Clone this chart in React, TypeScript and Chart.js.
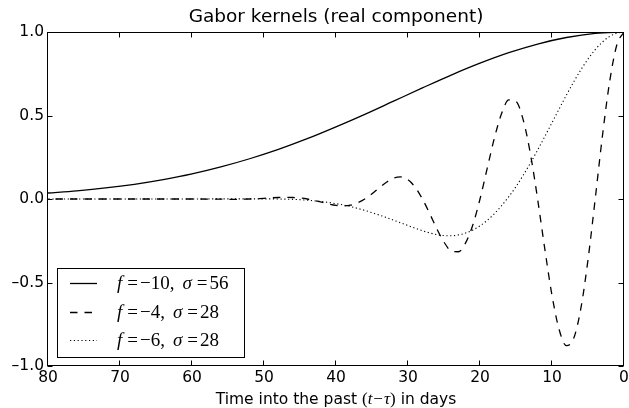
import React, { useEffect, useRef } from "react";
import { Chart, registerables } from "chart.js";

Chart.register(...registerables);

// ---------- data ----------
const TITLE = "Gabor kernels (real component)";

const xTickValues = [0, 10, 20, 30, 40, 50, 60, 70, 80];
const yTickValues = [-1, -0.5, 0, 0.5, 1];

// f = -10, sigma = 56 (solid)
const solidDays = [0, 4, 8, 12, 16, 20, 24, 28, 32, 36, 40, 44, 48, 52, 56, 60, 64, 68, 72, 76, 80];
const solidValues = [1.0, 0.992, 0.967, 0.928, 0.876, 0.813, 0.742, 0.665, 0.586, 0.507, 0.432, 0.361, 0.297, 0.241, 0.192, 0.15, 0.116, 0.088, 0.066, 0.049, 0.036];

// f = -4, sigma = 28 (dashed)
const dashedDays = [
  0, 1, 2, 3, 4, 5, 6, 7, 8, 9, 10, 11, 12, 13, 14, 15, 16, 17, 18, 19, 20,
  21, 22, 23, 24, 25, 26, 27, 28, 29, 30, 31, 32, 33, 34, 35, 36, 37, 38, 39, 40,
  41, 42, 43, 44, 45, 46, 47, 48, 49, 50, 51, 52, 53, 54, 55, 56, 60, 65, 70, 75, 80,
];
const dashedValues = [
  1.0, 0.922, 0.701, 0.376, 0.0, -0.364, -0.657, -0.836, -0.878, -0.783, -0.577,
  -0.299, 0.0, 0.271, 0.474, 0.584, 0.593, 0.512, 0.365, 0.183, 0.0,
  -0.156, -0.263, -0.316, -0.311, -0.258, -0.178, -0.086, 0.0, 0.07, 0.115,
  0.132, 0.125, 0.1, 0.067, 0.031, 0.0, -0.023, -0.037, -0.041, -0.038,
  -0.03, -0.019, -0.009, 0.0, 0.006, 0.009, 0.01, 0.009, 0.007, 0.004,
  0.002, 0.0, -0.001, -0.002, -0.002, -0.001, 0, 0, 0, 0, 0,
];

// f = -6, sigma = 28 (dotted)
const dottedDays = [
  0, 1, 2, 3, 4, 5, 6, 7, 8, 9, 10, 11, 12, 13, 14, 15, 16, 17, 18, 19, 20,
  21, 22, 23, 24, 25, 26, 27, 28, 29, 30, 31, 32, 33, 34, 35, 36, 37, 38, 39, 40,
  41, 42, 43, 44, 45, 46, 47, 48, 49, 50, 55, 60, 70, 80,
];
const dottedValues = [
  1.0, 0.993, 0.973, 0.94, 0.894, 0.838, 0.773, 0.7, 0.622, 0.54, 0.457,
  0.374, 0.293, 0.215, 0.142, 0.074, 0.014, -0.04, -0.088, -0.128, -0.161,
  -0.186, -0.204, -0.215, -0.22, -0.219, -0.213, -0.203, -0.19, -0.175, -0.159,
  -0.143, -0.127, -0.111, -0.096, -0.082, -0.068, -0.056, -0.045, -0.036, -0.028,
  -0.021, -0.015, -0.011, -0.007, -0.004, -0.002, -0.001, 0.0, 0.001, 0.001,
  0.001, 0, 0, 0,
];

const legendF = ["\u221210", "\u22124", "\u22126"];
const legendSigma = ["56", "28", "28"];

// ---------- styling ----------
const SANS = '"DejaVu Sans", sans-serif';
const SERIF = '"Liberation Serif", "DejaVu Serif", serif';
const dashStyles: number[][] = [[], [7.5, 7], [1.2, 2.6]];

type Run = { text: string; font: string; pad?: number };

function runsWidth(ctx: CanvasRenderingContext2D, runs: Run[]) {
  let w = 0;
  for (const r of runs) {
    ctx.font = r.font;
    w += ctx.measureText(r.text).width + (r.pad || 0);
  }
  return w;
}

function drawRuns(ctx: CanvasRenderingContext2D, runs: Run[], x: number, y: number) {
  for (const r of runs) {
    ctx.font = r.font;
    ctx.fillText(r.text, x, y);
    x += ctx.measureText(r.text).width + (r.pad || 0);
  }
}

const decorPlugin = {
  id: "decor",
  afterDraw(chart: any) {
    const { ctx, chartArea: a } = chart;
    const xs = chart.scales.x;
    const ys = chart.scales.y;
    ctx.save();
    ctx.strokeStyle = "#000";
    ctx.fillStyle = "#000";
    ctx.lineWidth = 1;
    ctx.setLineDash([]);

    const L = Math.round(a.left) - 0.5;
    const R = Math.round(a.right) - 0.5;
    const T = Math.round(a.top) + 0.5;
    const B = Math.round(a.bottom) - 0.5;
    ctx.strokeRect(L, T, R - L, B - T);

    const tl = 5;
    ctx.beginPath();
    for (const v of xTickValues) {
      const px = Math.round(xs.getPixelForValue(v)) - 0.5;
      ctx.moveTo(px, B);
      ctx.lineTo(px, B - tl);
      ctx.moveTo(px, T);
      ctx.lineTo(px, T + tl);
    }
    for (const v of yTickValues) {
      const py = Math.round(ys.getPixelForValue(v)) + 0.5;
      ctx.moveTo(L, py);
      ctx.lineTo(L + tl, py);
      ctx.moveTo(R, py);
      ctx.lineTo(R - tl, py);
    }
    ctx.stroke();

    // title
    const cx = (a.left + a.right) / 2;
    ctx.textAlign = "center";
    ctx.textBaseline = "alphabetic";
    ctx.font = `18.5px ${SANS}`;
    ctx.fillText(TITLE, cx, 22);

    // x label
    ctx.textAlign = "left";
    const sans = `15.5px ${SANS}`;
    const mr = `17px ${SERIF}`;
    const mi = `italic 17px ${SERIF}`;
    const xl: Run[] = [
      { text: "Time into the past ", font: sans },
      { text: "(", font: mr },
      { text: "t", font: mi, pad: 1 },
      { text: "\u2212", font: mr, pad: 1 },
      { text: "\u03C4", font: mi },
      { text: ")", font: mr },
      { text: " in days", font: sans },
    ];
    const xw = runsWidth(ctx, xl);
    drawRuns(ctx, xl, cx - xw / 2, 404);

    // legend
    const bx = 57, by = 268, bw = 187, bh = 89;
    ctx.fillStyle = "#fff";
    ctx.fillRect(bx, by, bw, bh);
    ctx.strokeStyle = "#000";
    ctx.lineWidth = 1;
    ctx.strokeRect(bx + 0.5, by + 0.5, bw, bh);
    const rows = [283, 312, 340];
    const fr = `19px ${SERIF}`;
    const fi = `italic 19px ${SERIF}`;
    for (let i = 0; i < 3; i++) {
      const y = rows[i];
      ctx.strokeStyle = "#000";
      ctx.lineWidth = i === 2 ? 1.1 : 1.3;
      ctx.setLineDash(dashStyles[i]);
      ctx.beginPath();
      ctx.moveTo(70, y + 0.5);
      ctx.lineTo(97, y + 0.5);
      ctx.stroke();
      ctx.setLineDash([]);
      ctx.fillStyle = "#000";
      const runs: Run[] = [
        { text: "f", font: fi, pad: 5 },
        { text: "=", font: fr, pad: 2 },
        { text: legendF[i] + ",", font: fr, pad: 8 },
        { text: "\u03C3", font: fi, pad: 5 },
        { text: "=", font: fr, pad: 2 },
        { text: legendSigma[i], font: fr },
      ];
      drawRuns(ctx, runs, 117, y + 6);
    }
    ctx.restore();
  },
};

export default function App() {
  const ref = useRef<HTMLCanvasElement | null>(null);

  useEffect(() => {
    if (!ref.current) return;
    const mk = (days: number[], vals: number[]) => days.map((d, i) => ({ x: d, y: vals[i] }));
    const base = {
      borderColor: "#000",
      backgroundColor: "#000",
      pointRadius: 0,
      fill: false,
      cubicInterpolationMode: "monotone" as const,
      borderCapStyle: "butt" as const,
    };
    const chart = new Chart(ref.current, {
      type: "line",
      data: {
        datasets: [
          { ...base, label: "f=-10, sigma=56", data: mk(solidDays, solidValues), borderWidth: 1.3, borderDash: dashStyles[0] },
          { ...base, label: "f=-4, sigma=28", data: mk(dashedDays, dashedValues), borderWidth: 1.3, borderDash: dashStyles[1] },
          { ...base, label: "f=-6, sigma=28", data: mk(dottedDays, dottedValues), borderWidth: 1.1, borderDash: dashStyles[2] },
        ],
      },
      options: {
        responsive: false,
        animation: false,
        devicePixelRatio: 1,
        layout: { padding: { top: 32, right: 5, left: 0, bottom: 0 } },
        plugins: {
          legend: { display: false },
          title: { display: false },
          tooltip: { enabled: false },
        },
        scales: {
          x: {
            type: "linear",
            reverse: true,
            min: 0,
            max: 80,
            grid: { display: false, drawTicks: false },
            border: { display: false },
            afterBuildTicks: (s: any) => {
              s.ticks = xTickValues.map((v) => ({ value: v }));
            },
            afterFit: (s: any) => {
              s.height = 42;
            },
            ticks: {
              color: "#000",
              padding: 3,
              maxRotation: 0,
              font: { family: "DejaVu Sans", size: 15.5 },
              callback: (v: any) => String(v),
            },
          },
          y: {
            type: "linear",
            min: -1,
            max: 1,
            grid: { display: false, drawTicks: false },
            border: { display: false },
            afterBuildTicks: (s: any) => {
              s.ticks = yTickValues.map((v) => ({ value: v }));
            },
            afterFit: (s: any) => {
              s.width = 48;
            },
            ticks: {
              color: "#000",
              padding: 4,
              font: { family: "DejaVu Sans", size: 15.5 },
              callback: (v: any) => {
                const n = Number(v);
                const s = Math.abs(n).toFixed(1);
                return n < 0 ? "\u2013" + s : s;
              },
            },
          },
        },
      },
      plugins: [decorPlugin],
    });
    return () => chart.destroy();
  }, []);

  return (
    <div style={{ position: "fixed", left: 0, top: 0, width: 629, height: 408, background: "#fff" }}>
      <canvas ref={ref} width={629} height={408} style={{ display: "block" }} />
    </div>
  );
}
